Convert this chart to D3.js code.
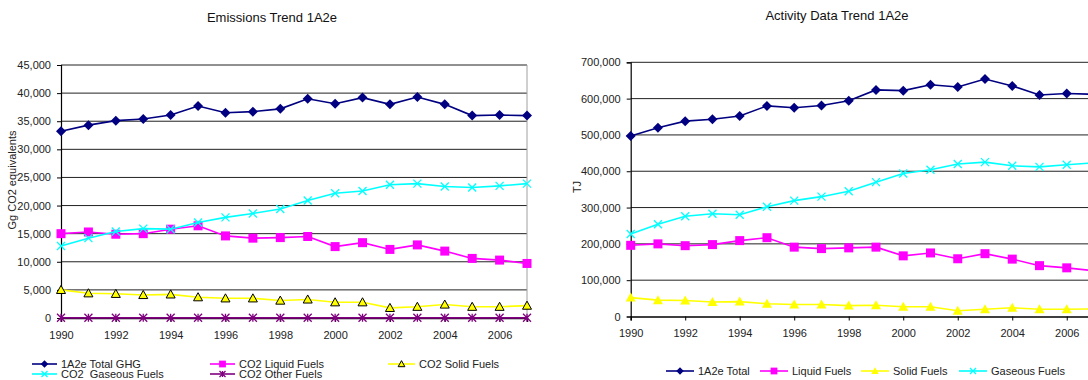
<!DOCTYPE html>
<html>
<head>
<meta charset="utf-8">
<script src="https://cdn.jsdelivr.net/npm/d3@7"></script>
<style>
  html, body { margin: 0; padding: 0; background: #fff; }
  svg { display: block; font-family: "Liberation Sans", Arial, sans-serif; }
  text { white-space: pre; }
</style>
</head>
<body>
<svg id="chart" width="1088" height="380"></svg>
<script>
// ---------- DATA ----------
const years = [1990,1991,1992,1993,1994,1995,1996,1997,1998,1999,2000,2001,2002,2003,2004,2005,2006,2007];
const yearTicks = [1990,1992,1994,1996,1998,2000,2002,2004,2006];

// Emissions (Gg CO2 equivalents)
const emTotalGHG  = [33200,34300,35100,35400,36100,37700,36500,36700,37200,39000,38100,39200,38000,39300,38000,36000,36100,36000];
const emLiquid    = [15000,15300,14900,15000,15800,16400,14600,14200,14300,14500,12700,13400,12200,13000,11900,10600,10300,9700];
const emSolid     = [5000,4400,4300,4100,4200,3700,3500,3500,3100,3300,2800,2800,1800,2000,2400,2000,2000,2200];
const emGaseous   = [12800,14200,15400,15900,15800,17000,17900,18600,19400,20900,22200,22600,23700,23900,23400,23200,23500,23900];
const emOther     = [30,30,30,30,30,30,30,30,30,30,30,30,30,30,30,30,30,30];
const emYTicks    = [0,5000,10000,15000,20000,25000,30000,35000,40000,45000];

// Activity data (TJ)
const adTotal     = [497000,520000,538000,543000,552000,580000,575000,581000,594000,624000,622000,638000,632000,654000,635000,610000,614000,612000];
const adLiquid    = [196000,200000,195000,198000,209000,217000,191000,187000,189000,191000,167000,175000,159000,173000,158000,140000,134000,126000];
const adSolid     = [52000,45000,44000,40000,41000,35000,33000,33000,30000,31000,27000,27000,16000,20000,24000,20000,20000,21000];
const adGaseous   = [227000,254000,276000,283000,280000,302000,319000,330000,345000,370000,394000,404000,420000,425000,415000,412000,418000,423000];
const adYTicks    = [0,100000,200000,300000,400000,500000,600000,700000];

// ---------- DRAWING ----------
const svg = d3.select("#chart");
const fmtNum = d3.format(",");

function markerPath(kind, s) {
  const h = s / 2;
  if (kind === "diamond") return `M0,${-h}L${h},0L0,${h}L${-h},0Z`;
  if (kind === "square") return `M${-h},${-h}H${h}V${h}H${-h}Z`;
  if (kind === "triangle") return `M0,${-h}L${h},${h*0.8}L${-h},${h*0.8}Z`;
  if (kind === "x") return `M${-h},${-h}L${h},${h}M${-h},${h}L${h},${-h}`;
  if (kind === "star") return `M${-h},${-h}L${h},${h}M${-h},${h}L${h},${-h}M0,${-h}V${h}`;
  return "";
}

function drawMarker(g, kind, x, y, st) {
  g.append("path")
    .attr("transform", `translate(${x},${y})`)
    .attr("d", markerPath(kind, st.size))
    .attr("fill", (kind === "x" || kind === "star") ? "none" : st.fill)
    .attr("stroke", st.stroke || "none")
    .attr("stroke-width", st.sw || 1);
}

function drawChart(cfg) {
  const g = svg.append("g");
  const x = d3.scaleLinear().domain([1990, 2007]).range([cfg.x0, cfg.x1]);
  const y = d3.scaleLinear().domain([0, cfg.yMax]).range([cfg.y0, cfg.y1]);

  // gridlines
  g.append("g").selectAll("line").data(cfg.yTicks.filter(d => d > 0)).join("line")
    .attr("x1", cfg.x0).attr("x2", cfg.gridEnd)
    .attr("y1", d => y(d)).attr("y2", d => y(d))
    .attr("stroke", "#222").attr("stroke-width", 1);

  // right border of plot area
  g.append("line").attr("x1", cfg.x1).attr("x2", cfg.x1).attr("y1", cfg.y1).attr("y2", cfg.y0)
    .attr("stroke", "#a0a0a0").attr("stroke-width", 1);

  // y axis
  const yAxis = d3.axisLeft(y).tickValues(cfg.yTicks).tickFormat(fmtNum).tickSize(4).tickPadding(6);
  const ya = g.append("g").attr("transform", `translate(${cfg.x0},0)`).call(yAxis);
  ya.select(".domain").attr("stroke", "#000").attr("stroke-width", 1.2);
  ya.selectAll("text").attr("font-size", 11).attr("fill", "#222")
    .attr("font-family", "Liberation Sans, Arial, sans-serif");

  // x axis
  const xAxis = d3.axisBottom(x).tickValues(yearTicks).tickFormat(d3.format("d")).tickSize(4).tickPadding(9);
  const xa = g.append("g").attr("transform", `translate(0,${cfg.y0})`).call(xAxis);
  xa.select(".domain").attr("stroke", "#000").attr("stroke-width", 1.5);
  xa.selectAll("text").attr("font-size", 11).attr("fill", "#222")
    .attr("font-family", "Liberation Sans, Arial, sans-serif");

  // series
  const line = d3.line().x((d, i) => x(years[i])).y(d => y(d));
  cfg.series.forEach(s => {
    g.append("path").datum(s.values).attr("d", line)
      .attr("fill", "none").attr("stroke", s.color).attr("stroke-width", 1.6);
    s.values.forEach((v, i) => drawMarker(g, s.marker, x(years[i]), y(v), s.ms));
  });

  // title
  g.append("text").attr("x", cfg.titleX).attr("y", cfg.titleY).attr("text-anchor", "middle")
    .attr("font-size", 13).attr("fill", "#111").text(cfg.title);

  // y label
  g.append("text").attr("transform", `translate(${cfg.ylabX},${cfg.ylabY}) rotate(-90)`)
    .attr("text-anchor", "middle").attr("font-size", 11).attr("fill", "#222").text(cfg.ylabel);

  // legend
  cfg.series.forEach(s => {
    const lg = g.append("g");
    lg.append("line").attr("x1", s.lx).attr("x2", s.lx + s.lw).attr("y1", s.ly).attr("y2", s.ly)
      .attr("stroke", s.color).attr("stroke-width", 1.6);
    drawMarker(lg, s.marker, s.lx + s.lw / 2, s.ly, Object.assign({}, s.ms, {size: s.ms.size * 0.75}));
    lg.append("text").attr("x", s.lx + s.lw + 4).attr("y", s.ly).attr("dy", "0.35em")
      .attr("font-size", 11).attr("fill", "#222").text(s.name);
  });
}

drawChart({
  x0: 61, x1: 527, gridEnd: 527, y0: 318, y1: 65, yMax: 45000, yTicks: emYTicks,
  title: "Emissions Trend 1A2e", titleX: 272, titleY: 22,
  ylabel: "Gg CO2 equivalents", ylabX: 16, ylabY: 180,
  series: [
    {name: "1A2e Total GHG", values: emTotalGHG, color: "#000080", marker: "diamond",
     ms: {size: 10, fill: "#000080"}, lx: 32, lw: 25, ly: 364},
    {name: "CO2 Liquid Fuels", values: emLiquid, color: "#FF00FF", marker: "square",
     ms: {size: 9, fill: "#FF00FF"}, lx: 210, lw: 25, ly: 364},
    {name: "CO2 Solid Fuels", values: emSolid, color: "#FFFF00", marker: "triangle",
     ms: {size: 9, fill: "#FFFF00", stroke: "#000", sw: 1}, lx: 388, lw: 27, ly: 364},
    {name: "CO2  Gaseous Fuels", values: emGaseous, color: "#00FFFF", marker: "x",
     ms: {size: 8, fill: "none", stroke: "#00FFFF", sw: 1.3}, lx: 32, lw: 25, ly: 374},
    {name: "CO2 Other Fuels", values: emOther, color: "#800080", marker: "star",
     ms: {size: 8, fill: "none", stroke: "#800080", sw: 1.3}, lx: 210, lw: 25, ly: 374}
  ]
});

drawChart({
  x0: 630.7, x1: 1094, gridEnd: 1094, y0: 316.5, y1: 62.3, yMax: 700000, yTicks: adYTicks,
  title: "Activity Data Trend 1A2e", titleX: 837, titleY: 20,
  ylabel: "TJ", ylabX: 581, ylabY: 187,
  series: [
    {name: "1A2e Total", values: adTotal, color: "#000080", marker: "diamond",
     ms: {size: 10, fill: "#000080"}, lx: 666, lw: 28, ly: 371},
    {name: "Liquid Fuels", values: adLiquid, color: "#FF00FF", marker: "square",
     ms: {size: 9, fill: "#FF00FF"}, lx: 760, lw: 28, ly: 371},
    {name: "Solid Fuels", values: adSolid, color: "#FFFF00", marker: "triangle",
     ms: {size: 10, fill: "#FFFF00"}, lx: 861, lw: 28, ly: 371},
    {name: "Gaseous Fuels", values: adGaseous, color: "#00FFFF", marker: "x",
     ms: {size: 8, fill: "none", stroke: "#00FFFF", sw: 1.3}, lx: 959, lw: 28, ly: 371}
  ]
});
</script>
</body>
</html>
